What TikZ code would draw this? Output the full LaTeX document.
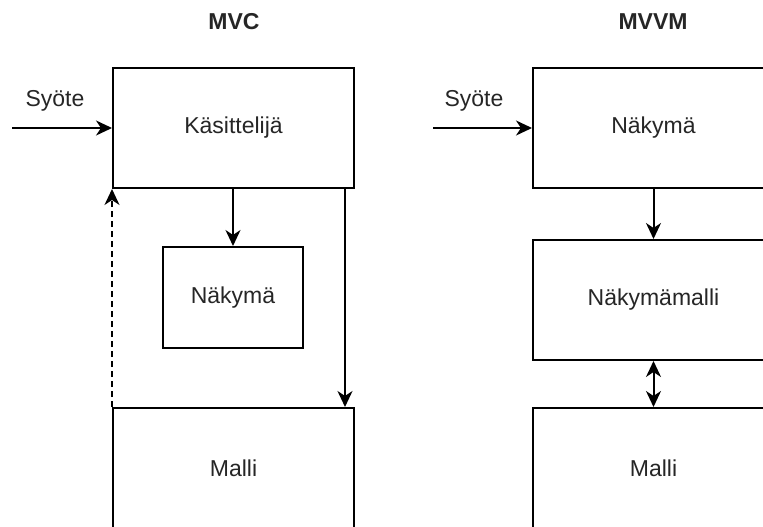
\documentclass[tikz,border=0pt]{standalone}
\usepackage{fontspec}
\setmainfont{Liberation Sans}
\usetikzlibrary{arrows.meta}
\begin{document}
\begin{tikzpicture}[x=1pt, y=-1pt,
  box/.style={draw, line width=2pt, inner sep=0pt, font=\fontsize{23}{27}\selectfont, text=black!85},
  lbl/.style={font=\fontsize{23}{27}\selectfont, text=black!85, inner sep=0pt},
  ttl/.style={font=\fontsize{23}{27}\selectfont\bfseries, text=black!85, inner sep=0pt},
  tip/.tip={Stealth[length=16pt, width=15pt, inset=5pt]},
  conn/.style={line width=2pt, -tip},
  bidir/.style={line width=2pt, tip-tip}
]
\clip (0,0) rectangle (763,527);
\fill[white] (0,0) rectangle (763,527);

% ---- MVC ----
\node[ttl] (mvc) at (234,22) {MVC};
\node[box, minimum width=241pt, minimum height=120pt] (kas) at (233.5,128) {Käsittelijä};
\node[box, minimum width=140pt, minimum height=101pt] (nak1) at (233,297.5) {Näkymä};
\node[box, minimum width=241pt, minimum height=120pt] (mal1) at (233.5,468) {Malli};
\node[lbl] (sy1) at (55,101) {Syöte};
\coordinate (in1) at (12,128);
\draw[conn] (in1) -- (kas.west);
\draw[conn] (kas.south -| nak1.north) -- (nak1.north);
\draw[conn] ([xshift=-10pt]kas.south east) -- ([xshift=-10pt]mal1.north east);
\draw[conn, dash pattern=on 6pt off 4pt] (mal1.north west) -- (kas.south west);

% ---- MVVM ----
\node[ttl] (mvvm) at (653,22) {MVVM};
\node[box, minimum width=241pt, minimum height=120pt] (nak2) at (653.5,128) {Näkymä};
\node[box, minimum width=241pt, minimum height=120pt] (vm) at (653.5,300) {Näkymämalli};
\node[box, minimum width=241pt, minimum height=120pt] (mal2) at (653.5,468) {Malli};
\node[lbl] (sy2) at (474,101) {Syöte};
\coordinate (in2) at (433,128);
\draw[conn] (in2) -- (nak2.west);
\draw[conn] (nak2.south) -- (vm.north);
\draw[bidir] (vm.south) -- (mal2.north);
\end{tikzpicture}
\end{document}
